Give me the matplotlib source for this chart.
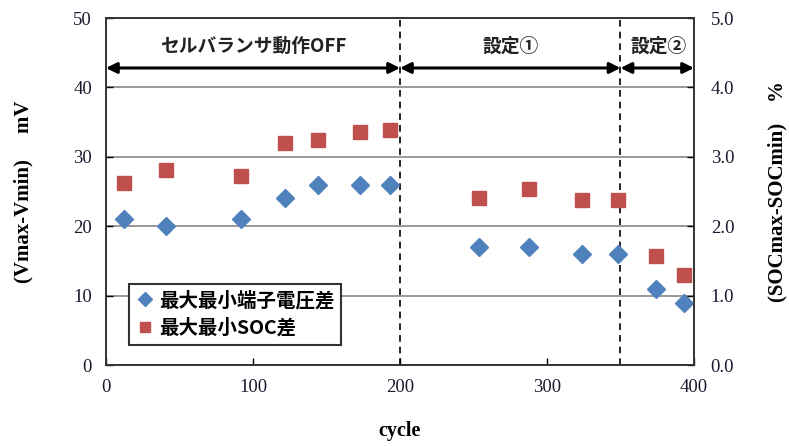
import numpy as np
import matplotlib
matplotlib.use("Agg")
import matplotlib.pyplot as plt

# data
cycle = [12, 41, 92, 122, 144, 173, 193, 254, 288, 324, 348, 374, 393]
v_diff = [21, 20, 21, 24, 26, 26, 26, 17, 17, 16, 16, 11, 9]          # mV
soc_diff = [2.62, 2.81, 2.72, 3.20, 3.24, 3.36, 3.39, 2.41, 2.54, 2.38, 2.38, 1.57, 1.30]  # %

phase_bounds = [0, 200, 350, 400]
phase_labels = ["セルバランサ動作OFF", "設定①", "設定②"]
phase_label_x = [100, 275, 376]

label_v = "最大最小端子電圧差"
label_soc = "最大最小SOC差"

serif = "Liberation Serif"
jp = ["Noto Sans CJK JP", "DejaVu Sans"]
tick_color = "#1a1a2e"

fig = plt.figure(figsize=(7.89, 4.46), dpi=100)
ax = fig.add_axes([0.1343, 0.1816, 0.7453, 0.778])
ax2 = ax.twinx()

ax.set_xlim(0, 400)
ax.set_ylim(0, 50)
ax2.set_ylim(0, 5)

ax.set_xticks([0, 100, 200, 300, 400])
ax.set_yticks(np.arange(0, 51, 10))
ax2.set_yticks(np.arange(0, 5.1, 1.0))
ax2.set_yticklabels([f"{v:.1f}" for v in np.arange(0, 5.1, 1.0)])

for a in (ax, ax2):
    a.tick_params(direction="in", length=5, width=1, labelsize=13.5, labelcolor=tick_color, pad=10)
    for lab in a.get_xticklabels() + a.get_yticklabels():
        lab.set_fontfamily(serif)
    for s in a.spines.values():
        s.set_linewidth(1.2)
        s.set_color("#333333")
ax2.tick_params(axis="y", pad=12)

ax.grid(axis="y", color="#888888", linewidth=1.2)
ax.set_axisbelow(True)

# phase boundaries
for b in phase_bounds[1:-1]:
    ax.axvline(b, color="black", linestyle=(0, (4, 3)), linewidth=1.2, zorder=1)

# double-headed arrows for each phase
arrow_y = 42.8
for i in range(len(phase_labels)):
    ax.annotate("", xy=(phase_bounds[i], arrow_y), xytext=(phase_bounds[i + 1], arrow_y),
                arrowprops=dict(arrowstyle="<|-|>", color="black", lw=2.2,
                                mutation_scale=16, shrinkA=0, shrinkB=0))
    ax.text(phase_label_x[i], 45.9, phase_labels[i], ha="center", va="center",
            fontsize=13.5, fontfamily=jp, fontweight="bold", color="#222222")

ax.plot(cycle, v_diff, linestyle="none", marker="D", markersize=9,
        color="#4F81BD", label=label_v, zorder=3)
ax2.plot(cycle, soc_diff, linestyle="none", marker="s", markersize=10.5,
         color="#C0504D", label=label_soc, zorder=3)

ax.set_xlabel("cycle", fontfamily=serif, fontweight="bold", fontsize=14.5, labelpad=18)
ax.set_ylabel("(Vmax-Vmin)\u3000 mV", fontfamily=[serif, "Noto Sans CJK JP"], fontweight="bold",
              fontsize=15, labelpad=29)
ax2.set_ylabel("(SOCmax-SOCmin)\u3000%", fontfamily=[serif, "Noto Sans CJK JP"], fontweight="bold",
               fontsize=15, labelpad=24)

h1, l1 = ax.get_legend_handles_labels()
h2, l2 = ax2.get_legend_handles_labels()
leg = ax2.legend(h1 + h2, l1 + l2, loc="lower left", bbox_to_anchor=(0.022, 0.03),
                 prop={"family": jp, "weight": "bold", "size": 14},
                 frameon=True, fancybox=False, edgecolor="#333333", framealpha=1,
                 handletextpad=0.2, handlelength=1.0, borderpad=0.35, labelspacing=0.45,
                 markerscale=0.75)
leg.get_frame().set_linewidth(1.5)

fig.savefig("out.png", dpi=100)
